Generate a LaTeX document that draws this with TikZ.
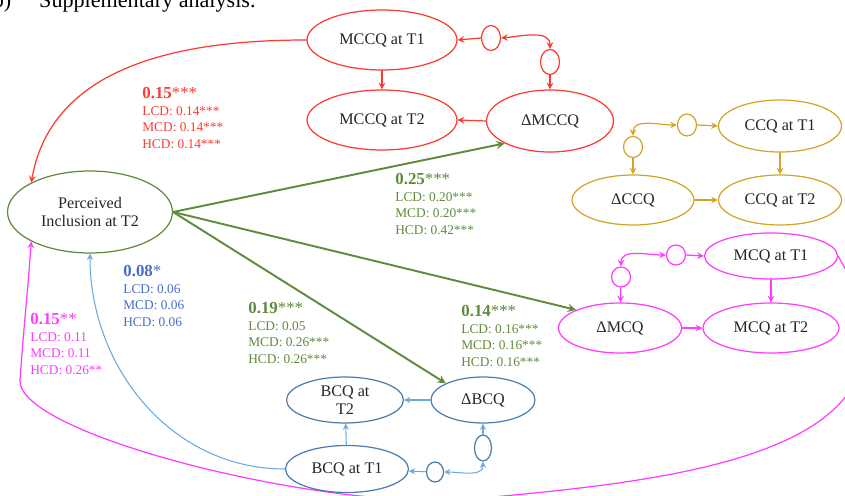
\documentclass[tikz,border=0pt]{standalone}
\usepackage{fontspec}
\setmainfont{Liberation Serif}
\usetikzlibrary{shapes.geometric}
\definecolor{cred}{RGB}{250,60,50}
\definecolor{cgreen}{RGB}{95,140,60}
\definecolor{cgold}{RGB}{210,165,40}
\definecolor{cmag}{RGB}{255,60,255}
\definecolor{cblue}{RGB}{75,125,175}
\definecolor{cblueln}{RGB}{105,170,225}
\definecolor{cbluetx}{RGB}{70,110,200}
\newcommand{\pathcoef}[2]{{\fontsize{9.6}{9.4}\selectfont\textbf{#1}#2}}
\begin{document}
\begin{tikzpicture}[x=0.02cm, y=0.02cm, line join=round, line cap=round, >=stealth,
	lat/.style={ellipse, draw, line width=0.7pt, inner sep=0pt, align=center, text=black!85, font=\fontsize{9.2}{10.5}\selectfont},
	res/.style={ellipse, draw, line width=0.7pt, inner sep=0pt, minimum width=0.38cm, minimum height=0.46cm},
	coef/.style={anchor=north west, inner sep=0pt, align=left, font=\fontsize{7.6}{9.4}\selectfont}]
	\useasboundingbox (0,0) rectangle (845,-496);
	\clip (0,0) rectangle (845,-496);
	\node[anchor=base west, font=\fontsize{12.6}{14}\selectfont] (ttl) at (33,-8) {\llap{b)\hspace{0.56cm}}Supplementary analysis.};
	% outcome
	\node[lat, draw=cgreen, minimum width=3.3cm, minimum height=1.64cm] (PI) at (90,-212) {Perceived\\Inclusion at T2};
	% MCCQ
	\begin{scope}[every node/.append style={draw=cred}, cred, line width=0.7pt]
		\node[lat, minimum width=3cm, minimum height=1.2cm] (MCCQa) at (382,-40) {MCCQ at T1};
		\node[lat, minimum width=3cm, minimum height=1.2cm] (MCCQb) at (382,-120) {MCCQ at T2};
		\node[lat, minimum width=2.54cm, minimum height=1.24cm] (dMCCQ) at (550,-121) {ΔMCCQ};
		\node[res, minimum height=0.5cm] (rm1) at (491,-38) {};
		\node[res, minimum height=0.5cm] (rm2) at (550,-62) {};
		\draw[->] (rm1.west) -- (MCCQa.east);
		\draw[<->] (rm1.east) to[out=5,in=90] (rm2.north);
		\draw[->] (rm2) -- (dMCCQ);
		\draw[->] (MCCQa) -- (MCCQb);
		\draw[->] (dMCCQ.west) -- (MCCQb.east);
		\draw[->] (MCCQa.west) to[out=180,in=80] (PI.north west);
	\end{scope}
	% CCQ
	\begin{scope}[every node/.append style={draw=cgold}, cgold, line width=0.7pt]
		\node[lat, minimum width=2.46cm, minimum height=1.04cm] (CCQa) at (780,-126) {CCQ at T1};
		\node[lat, minimum width=2.46cm, minimum height=1cm] (CCQb) at (780,-200) {CCQ at T2};
		\node[lat, minimum width=2.44cm, minimum height=1cm] (dCCQ) at (633,-200) {ΔCCQ};
		\node[res, minimum height=0.44cm] (rc1) at (687,-125) {};
		\node[res, minimum height=0.42cm] (rc2) at (633,-147) {};
		\draw[->] (rc1.east) -- (CCQa.west);
		\draw[<->] (rc1.west) to[out=180,in=90] (rc2.north);
		\draw[->] (rc2) -- (dCCQ);
		\draw[->] (CCQa) -- (CCQb);
		\draw[->] (dCCQ) -- (CCQb);
	\end{scope}
	% MCQ
	\begin{scope}[every node/.append style={draw=cmag}, cmag, line width=0.7pt]
		\node[lat, minimum width=2.66cm, minimum height=0.92cm] (MCQa) at (771,-256) {MCQ at T1};
		\node[lat, minimum width=2.72cm, minimum height=1cm] (MCQb) at (771,-328) {MCQ at T2};
		\node[lat, minimum width=2.46cm, minimum height=1cm] (dMCQ) at (620,-328) {ΔMCQ};
		\node[res, minimum height=0.4cm] (rq1) at (676,-255) {};
		\node[res, minimum height=0.4cm] (rq2) at (621,-277) {};
		\draw[->] (rq1.east) -- (MCQa.west);
		\draw[<->] (rq1.west) to[out=180,in=90] (rq2.north);
		\draw[->] (rq2) -- (dMCQ);
		\draw[->] (MCQa) -- (MCQb);
		\draw[->] (dMCQ) -- (MCQb);
		\coordinate (mlow) at (470,-499);
		\coordinate (mleft) at (20,-380);
		\draw[->] (MCQa.east) to[out=-60,in=5,looseness=1.3] (mlow)
			to[out=185,in=-94,out looseness=0.8,in looseness=0.3] (mleft)
			to[out=86,in=-94] (PI.south west);
	\end{scope}
	% BCQ
	\begin{scope}[every node/.append style={draw=cblue}, cblueln, line width=0.6pt]
		\node[lat, minimum width=2.34cm, minimum height=0.92cm] (BCQb) at (345,-400) {BCQ at\\T2};
		\node[lat, minimum width=2.08cm, minimum height=0.92cm] (dBCQ) at (483,-400) {ΔBCQ};
		\node[lat, minimum width=2.46cm, minimum height=0.94cm] (BCQa) at (347,-469) {BCQ at T1};
		\node[res, minimum width=0.34cm, minimum height=0.4cm] (rb1) at (435,-472) {};
		\node[res, minimum width=0.34cm, minimum height=0.52cm] (rb2) at (483,-448) {};
		\draw[->] (rb1) -- (BCQa);
		\draw[<->] (rb1.east) to[out=0,in=-90] (rb2.south);
		\draw[->] (rb2) -- (dBCQ);
		\draw[->] (BCQa) -- (BCQb);
		\draw[->] (dBCQ) -- (BCQb);
		\draw[->] (BCQa.west) to[out=180,in=-90] (PI.south);
	\end{scope}
	% paths from perceived inclusion
	\foreach \t/\a in {dMCCQ/south west, dMCQ/north west, dBCQ/north west}
		\draw[->, cgreen, line width=1.1pt] (PI.east) -- (\t.\a);
	% coefficients
	\node[coef, text=cred] (kMCCQ) at (142,-87) {\pathcoef{0.15}{***}\\LCD: 0.14***\\MCD: 0.14***\\HCD: 0.14***};
	\node[coef, text=cgreen] (kdMCCQ) at (395,-173) {\pathcoef{0.25}{***}\\LCD: 0.20***\\MCD: 0.20***\\HCD: 0.42***};
	\node[coef, text=cbluetx] (kBCQ) at (123,-265) {\pathcoef{0.08}{*}\\LCD: 0.06\\MCD: 0.06\\HCD: 0.06};
	\node[coef, text=cmag] (kMCQ) at (30,-313) {\pathcoef{0.15}{**}\\LCD: 0.11\\MCD: 0.11\\HCD: 0.26**};
	\node[coef, text=cgreen] (kdBCQ) at (248,-302) {\pathcoef{0.19}{***}\\LCD: 0.05\\MCD: 0.26***\\HCD: 0.26***};
	\node[coef, text=cgreen] (kdMCQ) at (461,-305) {\pathcoef{0.14}{***}\\LCD: 0.16***\\MCD: 0.16***\\HCD: 0.16***};
\end{tikzpicture}
\end{document}
